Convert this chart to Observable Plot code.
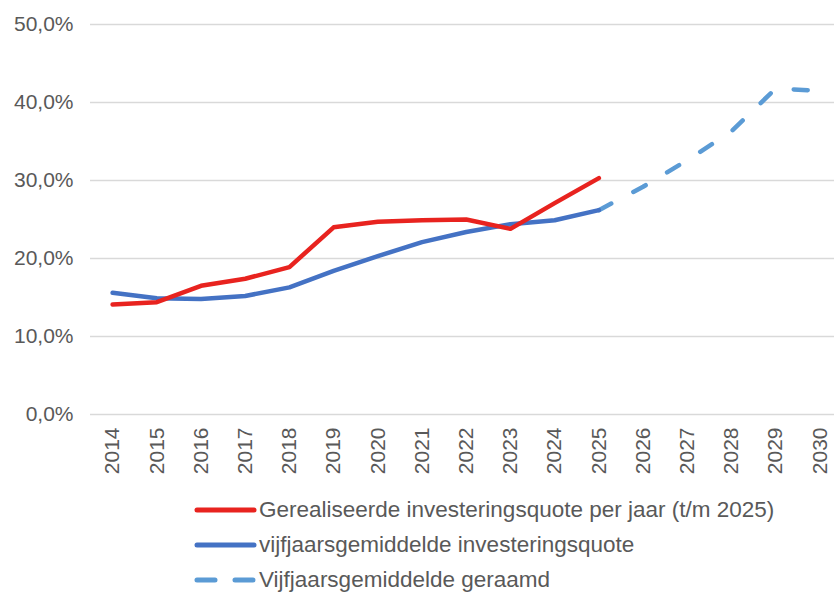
<!DOCTYPE html>
<html>
<head>
<meta charset="utf-8">
<script src="https://cdn.jsdelivr.net/npm/d3@7"></script>
<script src="https://cdn.jsdelivr.net/npm/@observablehq/plot@0.6"></script>
<style>
  html, body { margin: 0; padding: 0; background: #fff; overflow: hidden; }
  body { width: 834px; height: 593px; position: relative; font-family: "Liberation Sans", Arial, sans-serif; }
  #chart { position: absolute; left: 0; top: 0; }
  #legend { position: absolute; left: 0; top: 0; width: 834px; }
  .item { position: absolute; left: 193px; height: 30px; display: flex; align-items: center; color: #595959; font-size: 22.5px; white-space: nowrap; }
  .item svg { display: block; margin-right: 2px; }
</style>
</head>
<body>
<div id="chart"></div>
<div id="legend"></div>
<script>
// --- data ---
const years = [2014, 2015, 2016, 2017, 2018, 2019, 2020, 2021, 2022, 2023, 2024, 2025];
const realized = [14.1, 14.4, 16.5, 17.4, 18.9, 24.0, 24.7, 24.9, 25.0, 23.8, 27.1, 30.3];
const fiveYearAvg = [15.6, 14.9, 14.8, 15.2, 16.3, 18.4, 20.3, 22.1, 23.4, 24.4, 24.9, 26.2];
const projYears = [2025, 2026, 2027, 2028, 2029, 2030];
const projected = [26.2, 29.2, 32.6, 36.3, 41.8, 41.5];
const xTicks = [2014, 2015, 2016, 2017, 2018, 2019, 2020, 2021, 2022, 2023, 2024, 2025, 2026, 2027, 2028, 2029, 2030];
const yTicks = [0, 0.1, 0.2, 0.3, 0.4, 0.5];
const seriesNames = [
  "Gerealiseerde investeringsquote per jaar (t/m 2025)",
  "vijfjaarsgemiddelde investeringsquote",
  "Vijfjaarsgemiddelde geraamd"
];
const colors = ["#e8231f", "#4472c4", "#5b9bd5"];

const realizedData = years.map((y, i) => ({year: y, value: realized[i] / 100}));
const avgData = years.map((y, i) => ({year: y, value: fiveYearAvg[i] / 100}));
const projData = projYears.map((y, i) => ({year: y, value: projected[i] / 100}));

const fmtPct = d => (d * 100).toFixed(1).replace(".", ",") + "%";

const chart = Plot.plot({
  width: 834,
  height: 490,
  marginLeft: 90,
  marginRight: 0,
  marginTop: 24,
  marginBottom: 76,
  style: {fontFamily: "'Liberation Sans', Arial, sans-serif", fontSize: "21px", color: "#595959", background: "#fff"},
  x: {type: "linear", domain: [2013.5, 2030.33], ticks: xTicks, tickFormat: d => String(d), tickRotate: -90, tickSize: 0, tickPadding: 13, label: null},
  y: {domain: [0, 0.5], ticks: yTicks, tickFormat: fmtPct, tickSize: 0, tickPadding: 17, label: null},
  marks: [
    Plot.gridY(yTicks, {stroke: "#d9d9d9", strokeOpacity: 1, strokeWidth: 1.5}),
    Plot.line(projData, {x: "year", y: "value", stroke: colors[2], strokeWidth: 4.5, strokeDasharray: "14,25", strokeLinecap: "round"}),
    Plot.line(avgData, {x: "year", y: "value", stroke: colors[1], strokeWidth: 4.5, strokeLinecap: "round", strokeLinejoin: "round"}),
    Plot.line(realizedData, {x: "year", y: "value", stroke: colors[0], strokeWidth: 4.5, strokeLinecap: "round", strokeLinejoin: "round"})
  ]
});
document.getElementById("chart").appendChild(chart);

// legend
const legend = document.getElementById("legend");
const rowsY = [495, 530, 565];
seriesNames.forEach((name, i) => {
  const div = document.createElement("div");
  div.className = "item";
  div.style.top = rowsY[i] + "px";
  const dash = i === 2 ? 'stroke-dasharray="18,20"' : '';
  div.innerHTML = `<svg width="64" height="10"><line x1="4" x2="61" y1="5" y2="5" stroke="${colors[i]}" stroke-width="5" stroke-linecap="round" ${dash}/></svg><span>${name}</span>`;
  legend.appendChild(div);
});
</script>
</body>
</html>
